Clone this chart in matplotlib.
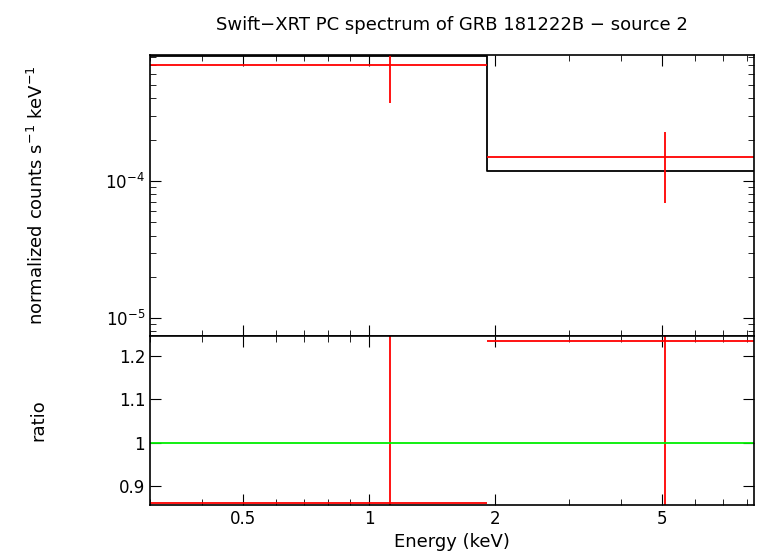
import matplotlib
matplotlib.use("Agg")
import matplotlib.pyplot as plt
from matplotlib.ticker import FixedLocator, NullFormatter

x_lo = [0.3, 1.91]
x_hi = [1.91, 8.3]
x_c = [1.12, 5.1]
y_data = [7.0e-4, 1.5e-4]
y_err_lo = [3.7e-4, 6.9e-5]
y_err_hi = [1.5e-3, 2.28e-4]
model = [8.1e-4, 1.18e-4]
ratio = [0.861, 1.235]
ratio_lo = [0.5, 0.5]
ratio_hi = [1.5, 1.5]

fig = plt.figure(figsize=(7.58, 5.56), dpi=100)
W, H = 758, 556
ax1 = fig.add_axes([150/W, 1-336/H, 604/W, 281/H])
ax2 = fig.add_axes([150/W, 1-505/H, 604/W, 169/H], sharex=ax1)

ax1.set_xscale("log"); ax1.set_yscale("log")
ax1.set_xlim(0.3, 8.3); ax1.set_ylim(7.4e-6, 8.3e-4)
ax2.set_ylim(0.856, 1.246)

# model step
mx = [x_lo[0], x_hi[0], x_lo[1], x_hi[1]]
my = [model[0], model[0], model[1], model[1]]
ax1.plot(mx, my, color="black", lw=1.3)
for i in range(2):
    ax1.hlines(y_data[i], x_lo[i], x_hi[i], color="red", lw=1.3)
    ax1.vlines(x_c[i], y_err_lo[i], y_err_hi[i], color="red", lw=1.3)
    ax2.hlines(ratio[i], x_lo[i], x_hi[i], color="red", lw=1.3)
    ax2.vlines(x_c[i], ratio_lo[i], ratio_hi[i], color="red", lw=1.3)
ax2.axhline(1.0, color="#00ee00", lw=1.3)

for ax in (ax1, ax2):
    ax.tick_params(which="both", direction="in", top=True, right=True, labelsize=12)
    ax.tick_params(which="major", length=8)
    ax.tick_params(which="minor", length=4)
    for s in ax.spines.values():
        s.set_linewidth(1.2)
ax2.xaxis.set_major_locator(FixedLocator([0.5, 1, 2, 5]))
ax2.set_xticklabels(["0.5", "1", "2", "5"])
ax2.xaxis.set_minor_formatter(NullFormatter())
plt.setp(ax1.get_xticklabels(), visible=False)
ax2.set_yticks([0.9, 1.0, 1.1, 1.2])
ax2.set_yticklabels(["0.9", "1", "1.1", "1.2"])

ax1.set_ylabel("normalized counts s$^{-1}$ keV$^{-1}$", fontsize=13)
ax2.set_ylabel("ratio", fontsize=13)
ax1.yaxis.set_label_coords(-0.17, 0.5)
ax2.yaxis.set_label_coords(-0.17, 0.5)
ax2.set_xlabel("Energy (keV)", fontsize=13)
ax1.set_title("Swift\u2212XRT PC spectrum of GRB 181222B \u2212 source 2", fontsize=13, pad=18)

fig.savefig("out.png", dpi=100)
